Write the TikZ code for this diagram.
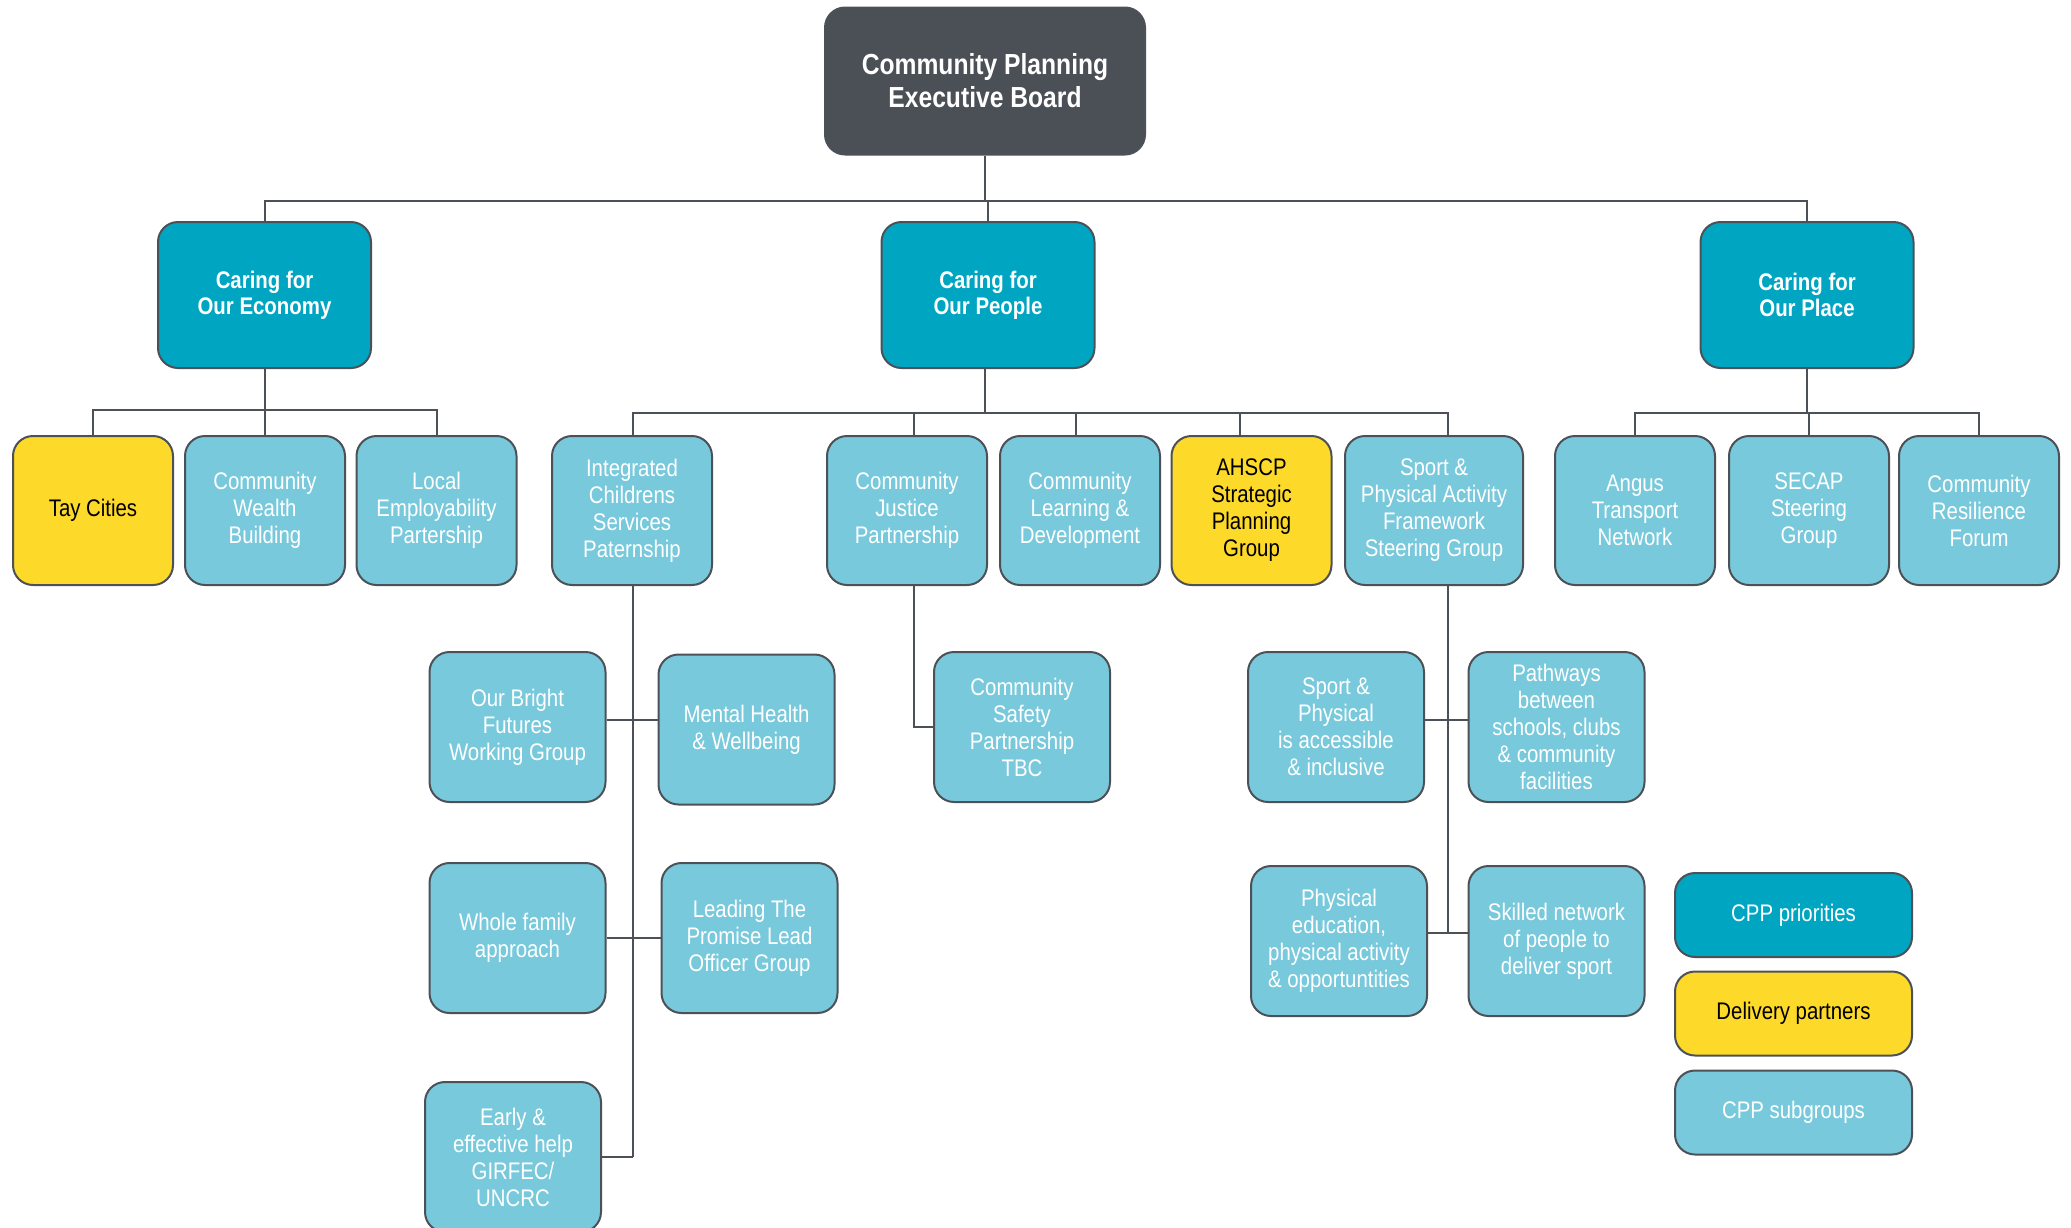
\documentclass[tikz,border=0pt]{standalone}
\usepackage{fontspec}
\setmainfont{Liberation Sans}[FakeStretch=0.85]
\usetikzlibrary{calc}
\definecolor{boardgray}{HTML}{4A5056}
\definecolor{cppteal}{HTML}{00A5C1}
\definecolor{cpplight}{HTML}{78C9DB}
\definecolor{cppyellow}{HTML}{FDD92A}
\definecolor{edgegray}{HTML}{4C5157}
\tikzset{font=\fontsize{12}{13.5}\selectfont}
\tikzset{every node/.append style={align=center}}
\tikzset{
  cppbox/.style={draw=edgegray,line width=1pt,rounded corners=10pt,inner sep=2pt,text=white},
  cppboard/.style={cppbox,fill=boardgray,minimum width=160pt,minimum height=73.5pt,font=\bfseries\fontsize{14.5}{16.5}\selectfont},
  cppprio/.style={cppbox,fill=cppteal,minimum width=106.5pt,minimum height=73pt,font=\bfseries\fontsize{12}{13}\selectfont},
  cppgroup/.style={cppbox,fill=cpplight,minimum width=80pt,minimum height=74.5pt},
  cpppartner/.style={cppgroup,fill=cppyellow,text=black},
  cppsub/.style={cppbox,fill=cpplight,minimum width=88pt,minimum height=75pt},
  cppkey/.style={cppbox,fill=cpplight,minimum width=118.5pt,minimum height=42pt},
  cpplink/.style={draw=edgegray,line width=1pt}
}
\begin{document}
\begin{tikzpicture}[x=0.5pt,y=-0.5pt]
  \useasboundingbox (0,0) rectangle (2071,1227);
  \node[cppboard] (board) at (985,81) {Community Planning\\Executive Board};
  \node[cppprio] (eco) at (264.5,295) {Caring for\\Our Economy};
  \node[cppprio] (peo) at (988,295) {Caring for\\Our People};
  \node[cppprio] (pla) at (1807,295) {Caring for\\Our Place};

  \node[cpppartner] (tay) at (93,510.5) {Tay Cities};
  \node[cppgroup] (cwb) at (265,510.5) {Community\\Wealth\\Building};
  \node[cppgroup] (lep) at (436.5,510.5) {Local\\Employability\\Partership};
  \node[cppgroup] (ics) at (632,510.5) {Integrated\\Childrens\\Services\\Paternship};
  \node[cppgroup] (cjp) at (907,510.5) {Community\\Justice\\Partnership};
  \node[cppgroup] (cld) at (1080,510.5) {Community\\Learning \&\\Development};
  \node[cpppartner] (ahs) at (1251.5,510.5) {AHSCP\\Strategic\\Planning\\Group};
  \node[cppgroup,minimum width=89pt] (spa) at (1434,510.5) {Sport \&\\Physical Activity\\Framework\\Steering Group};
  \node[cppgroup] (atn) at (1635,510.5) {Angus\\Transport\\Network};
  \node[cppgroup] (sec) at (1809,510.5) {SECAP\\Steering\\Group};
  \node[cppgroup] (crf) at (1979,510.5) {Community\\Resilience\\Forum};

  \node[cppsub] (obf) at (517.5,727) {Our Bright\\Futures\\Working Group};
  \node[cppsub] (mhw) at (746.5,729.5) {Mental Health\\\& Wellbeing};
  \node[cppsub] (wfa) at (517.5,938) {Whole family\\approach};
  \node[cppsub] (ltp) at (749.5,938) {Leading The\\Promise Lead\\Officer Group};
  \node[cppsub] (eeh) at (513,1157) {Early \&\\effective help\\GIRFEC/\\UNCRC};
  \node[cppsub] (csp) at (1022,727) {Community\\Safety\\Partnership\\TBC};
  \node[cppsub] (spi) at (1336,727) {Sport \&\\Physical\\is accessible\\\& inclusive};
  \node[cppsub] (pbs) at (1556.5,727) {Pathways\\between\\schools, clubs\\\& community\\facilities};
  \node[cppsub] (ped) at (1339,941) {Physical\\education,\\physical activity\\\& opportuntities};
  \node[cppsub] (skn) at (1556.5,941) {Skilled network\\of people to\\deliver sport};

  \node[cppkey,fill=cppteal] (kprio) at (1793.5,915) {CPP priorities};
  \node[cppkey,fill=cppyellow,text=black] (kpart) at (1793.5,1013.5) {Delivery partners};
  \node[cppkey] (ksub) at (1793.5,1112.5) {CPP subgroups};

  % tree lines
  \coordinate (tophub) at (985,201);
  \draw[cpplink] (board) -- (tophub);
  \foreach \n in {eco,peo,pla} \draw[cpplink] (tophub) -| (\n.north);

  \coordinate (ecohub) at (264.5,410);
  \draw[cpplink] (eco) -- (ecohub);
  \foreach \n in {tay,cwb,lep} \draw[cpplink] (ecohub) -| (\n.north);

  \coordinate (peohub) at (985,413);
  \draw[cpplink] (peo.south -| peohub) -- (peohub);
  \foreach \n/\d in {ics/1,cjp/7,cld/-4,ahs/-12,spa/14}
    \draw[cpplink] (peohub) -| ($(\n.north)+(\d,0)$);

  \coordinate (plahub) at (1807,413);
  \draw[cpplink] (pla) -- (plahub);
  \foreach \n in {atn,sec,crf} \draw[cpplink] (plahub) -| (\n.north);

  \coordinate (icsend) at (633,1157);
  \draw[cpplink] (ics.south -| icsend) -- (icsend);
  \draw[cpplink] ([yshift=3.5pt]obf.east) -- ([yshift=3.5pt]obf.east -| mhw.west);
  \draw[cpplink] (wfa.east) -- (wfa.east -| ltp.west);
  \draw[cpplink] (eeh.east) -- (icsend);

  \draw[cpplink] ($(cjp.south)+(7,0)$) |- (csp.west);

  \coordinate (spaend) at (1448,933);
  \draw[cpplink] (spa.south -| spaend) -- (spaend);
  \draw[cpplink] ([yshift=3.5pt]spi.east) -- ([yshift=3.5pt]spi.east -| pbs.west);
  \draw[cpplink] ([yshift=4pt]ped.east) -- ([yshift=4pt]ped.east -| skn.west);
\end{tikzpicture}
\end{document}
